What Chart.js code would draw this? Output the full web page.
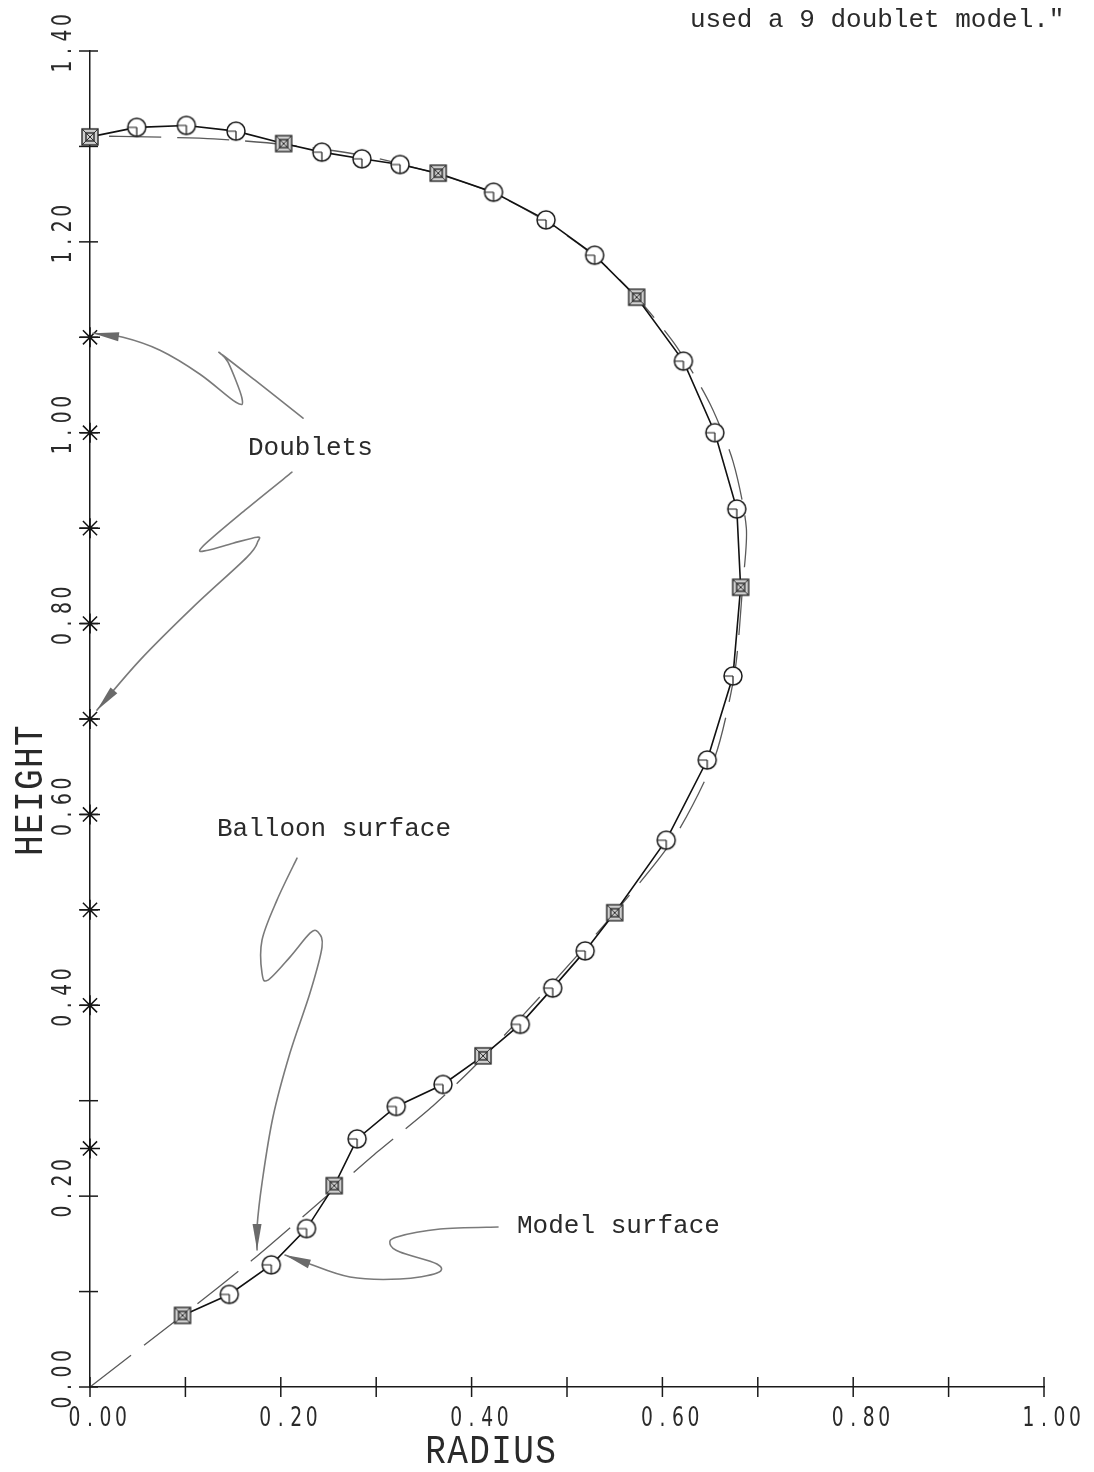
<!DOCTYPE html>
<html>
<head>
<meta charset="utf-8">
<script src="https://cdn.jsdelivr.net/npm/chart.js@4.4.0/dist/chart.umd.min.js"></script>
<style>
html,body{margin:0;padding:0;background:#fff;}
#wrap{position:relative;width:1094px;height:1472px;}
canvas{display:block;}
</style>
</head>
<body>
<div id="wrap"><canvas id="c" width="1094" height="1472"></canvas></div>
<script>
// ---------------- data ----------------
// Model surface (solid line with circle markers)
const modelRadius = [0.000,0.049,0.101,0.153,0.203,0.243,0.285,0.325,0.365,0.423,0.478,0.529,0.573,0.622,0.655,0.678,0.682,0.674,0.647,0.604,0.550,0.519,0.485,0.451,0.412,0.370,0.321,0.280,0.256,0.227,0.190,0.146,0.097];
const modelHeight = [1.310,1.320,1.322,1.316,1.303,1.294,1.287,1.281,1.272,1.252,1.223,1.186,1.142,1.075,1.000,0.920,0.838,0.745,0.657,0.573,0.497,0.457,0.418,0.380,0.347,0.317,0.294,0.260,0.211,0.166,0.128,0.097,0.075];

// Balloon surface (dashed line), from the origin up and round to the top
const balloonRadius = [0.000,0.097,0.170,0.256,0.302,0.360,0.412,0.480,0.550,0.612,0.655,0.676,0.684,0.688,0.674,0.650,0.615,0.573,0.530,0.480,0.425,0.365,0.290,0.203,0.130,0.060,0.000];
const balloonHeight = [0.000,0.075,0.133,0.207,0.247,0.295,0.345,0.418,0.497,0.575,0.660,0.750,0.838,0.900,0.970,1.030,1.090,1.142,1.184,1.220,1.250,1.271,1.290,1.302,1.308,1.310,1.311];

// Balloon surface nodes (square markers)
const nodeRadius = [0.000,0.203,0.365,0.573,0.682,0.550,0.412,0.256,0.097];
const nodeHeight = [1.310,1.303,1.272,1.142,0.838,0.497,0.347,0.211,0.075];

// Doublets (stars on the axis)
const doubletRadius = [0,0,0,0,0,0,0,0,0];
const doubletHeight = [1.10,1.00,0.90,0.80,0.70,0.60,0.50,0.40,0.25];

// Tick labels and titles
const xTickLabels = ['0.00','0.20','0.40','0.60','0.80','1.00'];
const yTickLabels = ['0.00','0.20','0.40','0.60','0.80','1.00','1.20','1.40'];
const xTitle = 'RADIUS';
const yTitle = 'HEIGHT';
const noteText = 'used a 9 doublet model."';

// Hand-drawn annotation arrows (data units)
const arrowDoubletsTop = [[0.2233,1.0152],[0.1730,1.0550],[0.1363,1.0833],[0.1447,1.0739],[0.1593,1.0361],[0.1530,1.0319],[0.1153,1.0613],[0.0734,1.0864],[0.0346,1.1000],[0.0031,1.1042]];
const arrowDoubletsLow = [[0.2117,0.9586],[0.1625,0.9188],[0.1174,0.8800],[0.1237,0.8769],[0.1499,0.8842],[0.1751,0.8905],[0.1761,0.8863],[0.1646,0.8696],[0.1080,0.8172],[0.0524,0.7617],[0.0073,0.7093]];
const arrowBalloon = [[0.2170,0.5542],[0.1960,0.5102],[0.1803,0.4683],[0.1803,0.4337],[0.1866,0.4264],[0.2096,0.4505],[0.2306,0.4756],[0.2390,0.4767],[0.2432,0.4610],[0.2306,0.4128],[0.2096,0.3499],[0.1918,0.2829],[0.1803,0.2137],[0.1751,0.1676],[0.1751,0.1435]];
const arrowModel = [[0.4277,0.1676],[0.3669,0.1655],[0.3218,0.1572],[0.3145,0.1498],[0.3249,0.1414],[0.3637,0.1289],[0.3637,0.1194],[0.3249,0.1131],[0.2725,0.1152],[0.2275,0.1299],[0.2044,0.1383]];
const annotationLabels = [
  {text:'Doublets', x:0.1656, y:0.9764},
  {text:'Balloon surface', x:0.1331, y:0.5773},
  {text:'Model surface', x:0.4476, y:0.1613}
];

// ---------------- helpers ----------------
const zip = (xs, ys) => xs.map((v, i) => ({x: v, y: ys[i]}));
const isNode = p => p && nodeRadius.some((r, i) => Math.abs(r - p.x) < 1e-6 && Math.abs(nodeHeight[i] - p.y) < 1e-6);

function makeCircle() {
  const c = document.createElement('canvas');
  c.width = 24; c.height = 24;
  const g = c.getContext('2d');
  g.fillStyle = '#fff'; g.strokeStyle = '#1a1a1a'; g.lineWidth = 1.5;
  g.beginPath(); g.arc(12, 12, 9, 0, Math.PI * 2); g.fill(); g.stroke();
  g.lineWidth = 1.2;
  g.beginPath(); g.moveTo(12, 12); g.lineTo(12, 21); g.moveTo(12, 12); g.lineTo(3, 12); g.stroke();
  return c;
}
function makeSquare() {
  const c = document.createElement('canvas');
  c.width = 22; c.height = 22;
  const g = c.getContext('2d');
  g.fillStyle = '#d0d0d0'; g.strokeStyle = '#2a2a2a'; g.lineWidth = 1.4;
  g.fillRect(3, 3, 16, 16);
  g.strokeRect(3, 3, 16, 16);
  g.strokeRect(7, 7, 8, 8);
  g.lineWidth = 1;
  g.beginPath(); g.moveTo(3, 3); g.lineTo(19, 19); g.moveTo(19, 3); g.lineTo(3, 19); g.stroke();
  return c;
}

function smoothPath(ctx, pts) {
  ctx.beginPath();
  ctx.moveTo(pts[0].x, pts[0].y);
  for (let i = 0; i < pts.length - 1; i++) {
    const p0 = pts[Math.max(i - 1, 0)], p1 = pts[i], p2 = pts[i + 1], p3 = pts[Math.min(i + 2, pts.length - 1)];
    const t = 1 / 6;
    ctx.bezierCurveTo(p1.x + (p2.x - p0.x) * t, p1.y + (p2.y - p0.y) * t,
                      p2.x - (p3.x - p1.x) * t, p2.y - (p3.y - p1.y) * t, p2.x, p2.y);
  }
  ctx.stroke();
}
function drawArrow(ctx, xs, ys, arr) {
  const pts = arr.map(p => ({x: xs.getPixelForValue(p[0]), y: ys.getPixelForValue(p[1])}));
  ctx.save();
  ctx.strokeStyle = '#7a7a7a'; ctx.lineWidth = 1.6; ctx.lineCap = 'round'; ctx.lineJoin = 'round';
  smoothPath(ctx, pts);
  const tip = pts[pts.length - 1], prev = pts[pts.length - 2];
  const ang = Math.atan2(tip.y - prev.y, tip.x - prev.x);
  const L = 26, W = 4.5;
  const bx = tip.x - Math.cos(ang) * L, by = tip.y - Math.sin(ang) * L;
  const nx = -Math.sin(ang) * W, ny = Math.cos(ang) * W;
  ctx.fillStyle = '#6a6a6a';
  ctx.beginPath();
  ctx.moveTo(tip.x, tip.y);
  ctx.lineTo(bx + nx, by + ny);
  ctx.lineTo(bx - nx, by - ny);
  ctx.closePath();
  ctx.fill();
  ctx.restore();
}

// plotter lettering: every character in a fixed cell, narrowed glyphs
function plotterText(ctx, text, x0, y0, adv, sx) {
  ctx.save();
  ctx.textAlign = 'center';
  ctx.textBaseline = 'alphabetic';
  for (let i = 0; i < text.length; i++) {
    ctx.save();
    ctx.translate(x0 + adv * (i + 0.5), y0);
    ctx.scale(sx, 1);
    ctx.fillText(text[i], 0, 0);
    ctx.restore();
  }
  ctx.restore();
}

// ---------------- plotter-style axes & annotations ----------------
const plotterPlugin = {
  id: 'plotter',
  afterDraw(chart) {
    const {ctx} = chart;
    const xs = chart.scales.x, ys = chart.scales.y;
    const X0 = xs.getPixelForValue(0), Y0 = ys.getPixelForValue(0);
    ctx.save();
    // crossing tick marks
    ctx.strokeStyle = '#1a1a1a'; ctx.lineWidth = 1.5;
    xs.ticks.forEach(t => {
      const px = xs.getPixelForValue(t.value);
      ctx.beginPath(); ctx.moveTo(px, Y0 - 10); ctx.lineTo(px, Y0 + 10); ctx.stroke();
    });
    ys.ticks.forEach(t => {
      const py = ys.getPixelForValue(t.value);
      ctx.beginPath(); ctx.moveTo(X0 - 11, py); ctx.lineTo(X0 + 8, py); ctx.stroke();
    });
    // tick labels: decimal point centred on the tick
    ctx.font = '26px "DejaVu Sans", "Liberation Sans", sans-serif';
    ctx.fillStyle = '#2a2a2a';
    const tAdv = 15.5;
    xTickLabels.forEach(lbl => {
      const px = xs.getPixelForValue(parseFloat(lbl));
      const dot = lbl.indexOf('.');
      plotterText(ctx, lbl, px - (dot + 0.5) * tAdv, Y0 + 39, tAdv, 0.72);
    });
    yTickLabels.forEach(lbl => {
      const py = ys.getPixelForValue(parseFloat(lbl));
      const dot = lbl.indexOf('.');
      ctx.save();
      ctx.translate(X0 - 19, py);
      ctx.rotate(-Math.PI / 2);
      plotterText(ctx, lbl, -(dot + 0.5) * tAdv, 0, tAdv, 0.72);
      ctx.restore();
    });
    // axis titles
    ctx.font = '40px "Liberation Mono", "DejaVu Sans Mono", monospace';
    const aAdv = 22;
    const xCenter = xs.getPixelForValue(0.42);
    plotterText(ctx, xTitle, xCenter - aAdv * xTitle.length / 2, Y0 + 76, aAdv, 0.86);
    ctx.save();
    ctx.translate(X0 - 48, ys.getPixelForValue(0.625));
    ctx.rotate(-Math.PI / 2);
    plotterText(ctx, yTitle, -aAdv * yTitle.length / 2, 0, aAdv, 0.86);
    ctx.restore();
    // annotation arrows
    [arrowDoubletsTop, arrowDoubletsLow, arrowBalloon, arrowModel].forEach(a => drawArrow(ctx, xs, ys, a));
    // annotation labels (typewriter)
    ctx.font = '26px "Liberation Mono", "DejaVu Sans Mono", monospace';
    ctx.fillStyle = '#2a2a2a';
    ctx.textAlign = 'left';
    ctx.textBaseline = 'alphabetic';
    annotationLabels.forEach(l => ctx.fillText(l.text, xs.getPixelForValue(l.x), ys.getPixelForValue(l.y)));
    // top note
    ctx.fillText(noteText, 690, 27);
    ctx.restore();
  }
};

const circleImg = makeCircle();
const squareImg = makeSquare();

new Chart(document.getElementById('c').getContext('2d'), {
  type: 'scatter',
  data: {
    datasets: [
      {
        label: 'Doublets',
        data: zip(doubletRadius, doubletHeight),
        showLine: false,
        pointStyle: 'star',
        pointRadius: 10,
        borderColor: '#111',
        borderWidth: 1.5,
        clip: false
      },
      {
        label: 'Balloon nodes',
        data: zip(nodeRadius, nodeHeight),
        showLine: false,
        pointStyle: squareImg,
        pointRadius: 9,
        clip: false
      },
      {
        label: 'Model surface',
        data: zip(modelRadius, modelHeight),
        showLine: true,
        borderColor: '#111',
        borderWidth: 1.6,
        tension: 0,
        pointStyle: circleImg,
        pointRadius: c => isNode(c.raw) ? 0 : 9,
        clip: false
      },
      {
        label: 'Balloon surface',
        data: zip(balloonRadius, balloonHeight),
        showLine: true,
        borderColor: '#5a5a5a',
        borderWidth: 1.3,
        borderDash: [52, 16],
        tension: 0.25,
        pointRadius: 0,
        clip: false
      }
    ]
  },
  options: {
    responsive: false,
    animation: false,
    devicePixelRatio: 1,
    events: [],
    layout: {padding: {left: 90, right: 50, top: 51, bottom: 85}},
    plugins: {legend: {display: false}, tooltip: {enabled: false}},
    scales: {
      x: {
        type: 'linear', min: 0, max: 1,
        ticks: {display: false, stepSize: 0.1},
        grid: {display: false, drawTicks: false},
        border: {display: true, color: '#1a1a1a', width: 1.5}
      },
      y: {
        type: 'linear', min: 0, max: 1.4,
        ticks: {display: false, stepSize: 0.1},
        grid: {display: false, drawTicks: false},
        border: {display: true, color: '#1a1a1a', width: 1.5}
      }
    }
  },
  plugins: [plotterPlugin]
});
</script>
</body>
</html>
